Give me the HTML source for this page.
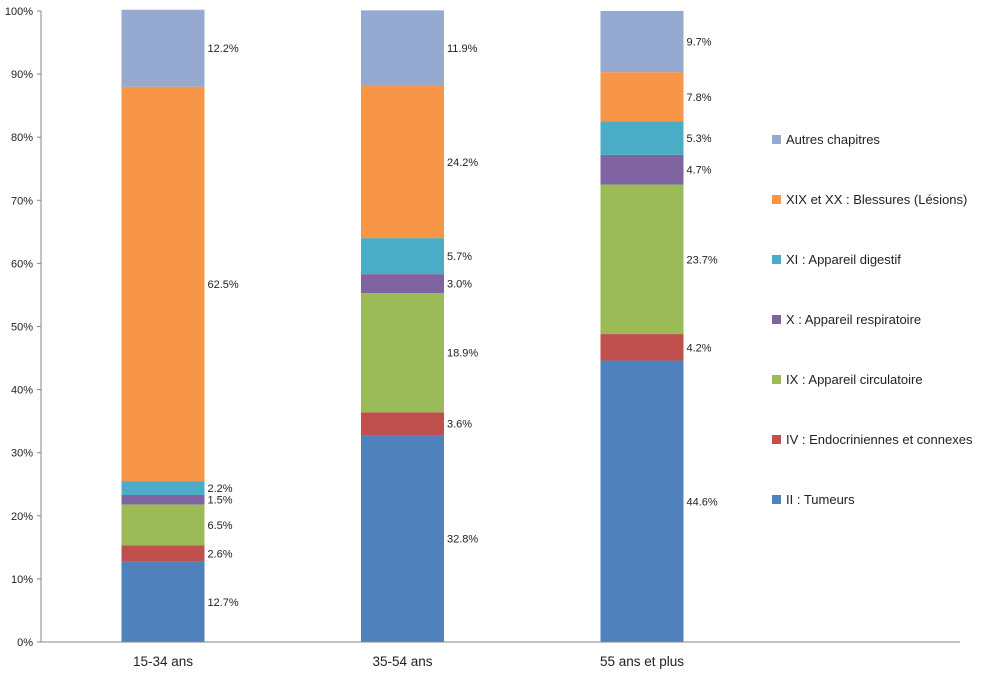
<!DOCTYPE html>
<html><head><meta charset="utf-8"><style>
body{margin:0;background:#fff;width:1000px;height:676px;overflow:hidden}
text{font-family:"Liberation Sans",sans-serif;fill:#222}
</style></head><body>
<svg id="chart" width="1000" height="676" xmlns="http://www.w3.org/2000/svg"></svg>
<script>
const categories=["15-34 ans","35-54 ans","55 ans et plus"];
const seriesNames=["II : Tumeurs","IV : Endocriniennes et connexes","IX : Appareil circulatoire","X : Appareil respiratoire","XI : Appareil digestif","XIX et XX : Blessures (Lésions)","Autres chapitres"];
const tumeurs=[12.7,32.8,44.6];
const endocrin=[2.6,3.6,4.2];
const circul=[6.5,18.9,23.7];
const respir=[1.5,3.0,4.7];
const digest=[2.2,5.7,5.3];
const blessures=[62.5,24.2,7.8];
const autres=[12.2,11.9,9.7];
const yTicks=[0,10,20,30,40,50,60,70,80,90,100];
const colors=["#4F81BD","#C0504D","#9BBB59","#8064A2","#4BACC6","#F79646","#95A9D1"];
const series=[tumeurs,endocrin,circul,respir,digest,blessures,autres];
const svg=document.getElementById('chart');const NS="http://www.w3.org/2000/svg";
function mk(t,a,p){const e=document.createElementNS(NS,t);for(const k in a)e.setAttribute(k,a[k]);(p||svg).appendChild(e);return e;}
const y0=642,y1=11,ax=41;
const y=v=>y0-(v/100)*(y0-y1);
const barW=83;const xc=i=>163+i*239.5;
yTicks.forEach(t=>{
 const l=mk('line',{x1:ax-4,x2:ax,y1:y(t),y2:y(t),stroke:'#868686'});
 
 const tx=mk('text',{x:ax-8,y:y(t)+4,'text-anchor':'end','font-size':11});tx.textContent=t+'%';
 
});
categories.forEach((c,i)=>{
 let acc=0;
 series.forEach((s,j)=>{
  const v=s[i];const top=y(acc+v),bot=y(acc);
  const r=mk('rect',{x:xc(i)-barW/2,y:top,width:barW,height:bot-top,fill:colors[j]});
  
  const t=mk('text',{x:xc(i)+barW/2+3,y:(top+bot)/2+4,'font-size':11});t.textContent=v.toFixed(1)+'%';
  
  acc+=v;
 });
 const ct=mk('text',{x:xc(i),y:666,'text-anchor':'middle','font-size':13.5});ct.textContent=c;
 
});
const ya=mk('line',{x1:ax,x2:ax,y1:y1,y2:y0,stroke:'#868686'});

const xa=mk('line',{x1:ax,x2:960,y1:y0,y2:y0,stroke:'#868686'});

for(let j=seriesNames.length-1;j>=0;j--){
 const k=seriesNames.length-1-j;const ly=140+k*60;
 const g=mk('g',{});
 
 mk('rect',{x:772,y:ly-5,width:9,height:9,fill:colors[j]},g);
 const t=mk('text',{x:786,y:ly+4,'font-size':13},g);t.textContent=seriesNames[j];
}
</script>
</body></html>
